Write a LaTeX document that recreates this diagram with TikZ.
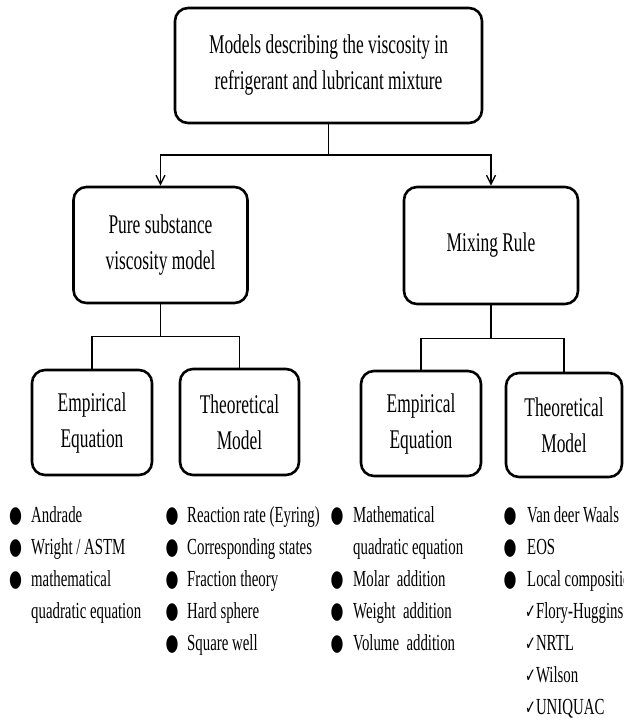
\documentclass[tikz,border=0pt]{standalone}
\usepackage{fontspec}
\setmainfont[FakeStretch=0.645]{Liberation Serif}
\newfontfamily\symfont[FakeStretch=0.645]{DejaVu Sans}
\usetikzlibrary{arrows.meta}
\begin{document}
\begin{tikzpicture}[x=1pt,y=-1pt,
  box/.style={draw, line width=2.6pt, rounded corners=13pt, inner sep=0pt, align=center,
    font=\fontsize{27}{36}\selectfont},
  conn/.style={line width=1.6pt},
  arr/.style={conn, -{Straight Barb[length=9pt,width=9pt,line width=1.4pt]}},
  item/.style={anchor=base west, inner sep=0pt, font=\fontsize{23}{30}\selectfont},
  bul/.style={anchor=base, inner sep=0pt, font=\fontsize{23}{30}\symfont},
  chk/.style={anchor=base west, inner sep=0pt, font=\fontsize{23}{30}\selectfont}]
\useasboundingbox (0,0) rectangle (624,721);
\clip (0,0) rectangle (624,721);
% boxes
\node[box, minimum width=307pt, minimum height=115pt] (top) at (328.5,65.5)
  {Models describing the viscosity in\\refrigerant and lubricant mixture};
\node[box, minimum width=174pt, minimum height=116pt] (pure) at (160.5,245)
  {Pure substance\\viscosity model};
\node[box, minimum width=174pt, minimum height=117pt] (mix) at (491,245.5)
  {Mixing Rule};
\node[box, minimum width=120pt, minimum height=105pt] (emp1) at (92,422.5)
  {Empirical\\Equation};
\node[box, minimum width=119pt, minimum height=106pt] (th1) at (239.5,422)
  {Theoretical\\Model};
\node[box, minimum width=120pt, minimum height=105pt] (emp2) at (421,423.5)
  {Empirical\\Equation};
\node[box, minimum width=116pt, minimum height=104pt] (th2) at (564,425)
  {Theoretical\\Model};
% connectors
\draw[arr] (top.south) -- ++(0,30.5) -| (pure.north);
\draw[arr] (top.south) -- ++(0,30.5) -| (mix.north);
\draw[conn] (pure.south) -- ++(0,32) -| (emp1.north);
\draw[conn] (pure.south) -- ++(0,32) -| (th1.north);
\draw[conn] (mix.south) -- ++(0,33) -| (emp2.north);
\draw[conn] (mix.south) -- ++(0,33) -| (th2.north);
% column 1
\node[bul] (b11) at (15.5,522) {●};
\node[item] (t11) at (31,522) {Andrade};
\node[bul] (b12) at (15.5,554) {●};
\node[item] (t12) at (31,554) {Wright / ASTM};
\node[bul] (b13) at (15.5,586) {●};
\node[item] (t13) at (31,586) {mathematical};
\node[item] (t14) at (31,618) {quadratic equation};
% column 2
\node[bul] (b21) at (172,522) {●};
\node[item] (t21) at (187,522) {Reaction rate (Eyring)};
\node[bul] (b22) at (172,554) {●};
\node[item] (t22) at (187,554) {Corresponding states};
\node[bul] (b23) at (172,586) {●};
\node[item] (t23) at (187,586) {Fraction theory};
\node[bul] (b24) at (172,618) {●};
\node[item] (t24) at (187,618) {Hard sphere};
\node[bul] (b25) at (172,650) {●};
\node[item] (t25) at (187,650) {Square well};
% column 3
\node[bul] (b31) at (337,522) {●};
\node[item] (t31) at (353,522) {Mathematical};
\node[item] (t32) at (353,554) {quadratic equation};
\node[bul] (b33) at (337,586) {●};
\node[item] (t33) at (353,586) {Molar~~addition};
\node[bul] (b34) at (337,618) {●};
\node[item] (t34) at (353,618) {Weight~~addition};
\node[bul] (b35) at (337,650) {●};
\node[item] (t35) at (353,650) {Volume~~addition};
% column 4
\node[bul] (b41) at (510,522) {●};
\node[item] (t41) at (527,522) {Van deer Waals};
\node[bul] (b42) at (510,554) {●};
\node[item] (t42) at (527,554) {EOS};
\node[bul] (b43) at (510,586) {●};
\node[item] (t43) at (527,586) {Local composition};
\node[chk] (t44) at (525,618) {{\symfont\fontsize{20}{24}\selectfont ✓}Flory-Huggins};
\node[chk] (t45) at (525,650) {{\symfont\fontsize{20}{24}\selectfont ✓}NRTL};
\node[chk] (t46) at (525,682) {{\symfont\fontsize{20}{24}\selectfont ✓}Wilson};
\node[chk] (t47) at (525,714) {{\symfont\fontsize{20}{24}\selectfont ✓}UNIQUAC};
\end{tikzpicture}
\end{document}
